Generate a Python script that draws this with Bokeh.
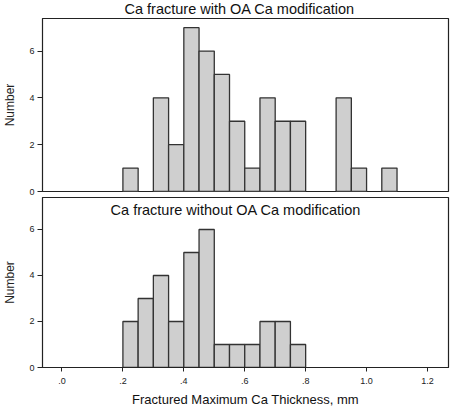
from bokeh.plotting import figure
from bokeh.models import Range1d, Label, FixedTicker
from bokeh.layouts import column
from bokeh.embed import file_html
from bokeh.resources import INLINE

# Histogram data (bin left edges, mm; bin width 0.05)
bin_width = 0.05
with_left = [0.20, 0.30, 0.35, 0.40, 0.45, 0.50, 0.55, 0.60, 0.65, 0.70, 0.75, 0.90, 0.95, 1.05]
with_counts = [1, 4, 2, 7, 6, 5, 3, 1, 4, 3, 3, 4, 1, 1]
without_left = [0.20, 0.25, 0.30, 0.35, 0.40, 0.45, 0.50, 0.55, 0.60, 0.65, 0.70, 0.75]
without_counts = [2, 3, 4, 2, 5, 6, 1, 1, 1, 2, 2, 1]

x_ticks = [0.0, 0.2, 0.4, 0.6, 0.8, 1.0, 1.2]
x_tick_labels = [".0", ".2", ".4", ".6", ".8", "1.0", "1.2"]
y_ticks = [0, 2, 4, 6]

title_top = "Ca fracture with OA Ca modification"
title_bottom = "Ca fracture without OA Ca modification"
x_label = "Fractured Maximum Ca Thickness, mm"
y_label = "Number"

FONT = "Liberation Sans"
X0, X1 = -0.064, 1.269
Y0, Y1 = 0, 7.39


def make_panel(left, counts, height, top, bottom):
    p = figure(width=450, height=height, output_backend="svg", toolbar_location=None,
               x_range=Range1d(X0, X1), y_range=Range1d(Y0, Y1),
               min_border_left=39, min_border_right=2,
               min_border_top=top, min_border_bottom=bottom)
    p.quad(left=left, right=[l + bin_width for l in left], bottom=0, top=counts,
           fill_color="#cfcfcf", line_color="#333333", line_width=1.3)
    p.xgrid.visible = False
    p.ygrid.visible = False
    p.outline_line_color = "#222222"
    p.outline_line_width = 1.2
    p.background_fill_color = "white"
    p.border_fill_color = "white"
    p.yaxis.ticker = FixedTicker(ticks=y_ticks)
    p.yaxis.minor_tick_line_color = None
    p.yaxis.major_tick_in = 0
    p.yaxis.major_tick_out = 5
    p.yaxis.major_label_standoff = 3
    p.yaxis.major_label_text_font = FONT
    p.yaxis.major_label_text_font_size = "9px"
    p.yaxis.major_label_text_color = "#222222"
    p.yaxis.axis_label = y_label
    p.yaxis.axis_label_text_font = FONT
    p.yaxis.axis_label_text_font_style = "normal"
    p.yaxis.axis_label_text_font_size = "12px"
    p.yaxis.axis_label_text_color = "#222222"
    p.yaxis.axis_label_standoff = 9
    p.yaxis.axis_line_color = "#222222"
    p.yaxis.major_tick_line_color = "#222222"
    return p


top_fig = make_panel(with_left, with_counts, 196, 18, 5)
top_fig.xaxis.visible = False
top_fig.title.text = title_top
top_fig.title.align = "left"
top_fig.title.offset = 82
top_fig.title.vertical_align = "top"
top_fig.title.standoff = 0
top_fig.title.text_font = FONT
top_fig.title.text_font_style = "normal"
top_fig.title.text_font_size = "14.5px"
top_fig.title.text_color = "#111111"

bot_fig = make_panel(without_left, without_counts, 213, 1, 40)
bot_fig.xaxis.ticker = FixedTicker(ticks=x_ticks)
bot_fig.xaxis.major_label_overrides = {t: s for t, s in zip(x_ticks, x_tick_labels)}
bot_fig.xaxis.minor_tick_line_color = None
bot_fig.xaxis.major_tick_in = 0
bot_fig.xaxis.major_tick_out = 4
bot_fig.xaxis.major_label_standoff = 6
bot_fig.xaxis.major_label_text_font = FONT
bot_fig.xaxis.major_label_text_font_size = "9px"
bot_fig.xaxis.major_label_text_color = "#222222"
bot_fig.xaxis.axis_label = x_label
bot_fig.xaxis.axis_label_text_font = FONT
bot_fig.xaxis.axis_label_text_font_style = "normal"
bot_fig.xaxis.axis_label_text_font_size = "13px"
bot_fig.xaxis.axis_label_text_color = "#111111"
bot_fig.xaxis.axis_label_standoff = 5
bot_fig.xaxis.axis_line_color = "#222222"
bot_fig.xaxis.major_tick_line_color = "#222222"
bot_fig.add_layout(Label(x=0.571, y=6.84, text=title_bottom, text_align="center",
                         text_baseline="middle", text_font=FONT,
                         text_font_size="14.5px", text_color="#111111"))

layout = column(top_fig, bot_fig, spacing=0)
open("out.html", "w").write(file_html(layout, INLINE))
